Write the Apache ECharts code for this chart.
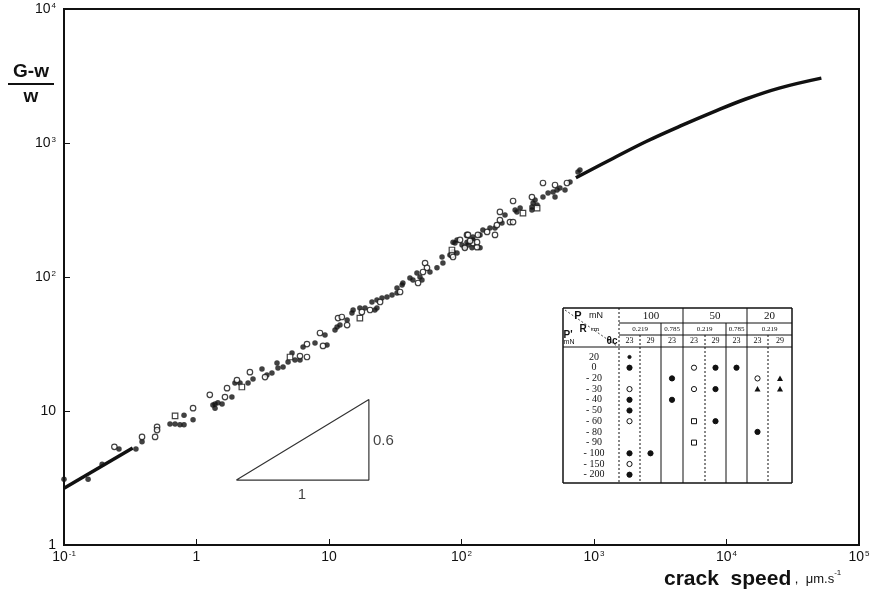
<!DOCTYPE html>
<html>
<head>
<meta charset="utf-8">
<script src="https://cdn.jsdelivr.net/npm/echarts@6/dist/echarts.min.js"></script>
<style>
html, body { margin: 0; padding: 0; background: #fff; }
#chart { width: 875px; height: 597px; }
</style>
</head>
<body>
<div id="chart"></div>
<script>
// axis ranges (decades)
const xRange = [0.1, 100000]
const yRange = [1, 10000]

// fitted curve, drawn where it is not hidden by the points
const curveLow = [[0.1, 2.65], [0.33, 5.3]]
const curveHigh = [[730, 550], [1400, 770], [2500, 1030], [4500, 1340], [7900, 1700], [14000, 2130], [25000, 2570], [52000, 3050]]

// measured points, by symbol
const filledPts = [
  [0.1, 3.1], [0.152, 3.1], [0.194, 4.0], [0.26, 5.2], [0.349, 5.2], [0.388, 5.9],
  [0.631, 8.0], [0.689, 8.0], [0.75, 7.9], [0.805, 7.9], [0.805, 9.3], [0.942, 8.6],
  [1.33, 11.1], [1.38, 10.5], [1.38, 11.3], [1.45, 11.5], [1.56, 11.3], [1.85, 12.7],
  [1.95, 16.2], [2.13, 16.2], [2.45, 16.2], [2.67, 17.3], [3.12, 20.6], [3.4, 18.6],
  [3.71, 19.2], [4.05, 22.8], [4.12, 20.9], [4.5, 21.3], [4.91, 23.2], [5.26, 27.1],
  [5.54, 24.0], [6.04, 24.0], [6.37, 30.0], [7.84, 32.2], [9.33, 36.9], [9.66, 31.1],
  [11.1, 40.2], [11.5, 42.4], [12.1, 43.8], [13.7, 47.8], [14.9, 53.9], [15.2, 56.7],
  [17.1, 58.7], [18.7, 58.7], [22.2, 56.7], [21.1, 65.1], [23.0, 67.3], [23.0, 58.7],
  [25.1, 69.7], [27.4, 70.9], [29.9, 73.4], [32.6, 76.0], [32.6, 82.8], [35.6, 87.1],
  [36.1, 90.2], [40.8, 98.3], [43.0, 95.0], [46.1, 107], [48.6, 100], [50.3, 95],
  [57.8, 109], [65.3, 117], [72.4, 127], [71.3, 141], [81.8, 146], [86.3, 154],
  [89.3, 179], [92.5, 151], [86.3, 182], [92.5, 189], [101, 173], [106, 167],
  [110, 182], [112, 173], [120, 165], [122, 189], [122, 199], [138, 165], [138, 206],
  [145, 224], [164, 232], [179, 232], [202, 253], [213, 290], [254, 316], [262, 306],
  [277, 327], [340, 316], [340, 333], [347, 357], [359, 376], [372, 345], [412, 395],
  [450, 423], [491, 431], [526, 446], [553, 461], [508, 395], [604, 446], [659, 512],
  [757, 608], [783, 629]
]
const openPts = [
  [0.24, 5.4], [0.388, 6.4], [0.487, 6.4], [0.504, 7.6], [0.504, 7.2], [0.942, 10.5],
  [1.26, 13.2], [1.64, 12.7], [1.7, 14.8], [2.02, 17.0], [2.53, 19.5], [3.29, 17.9],
  [6.04, 25.7], [6.82, 25.3], [6.82, 31.6], [9.01, 30.6], [8.55, 38.2], [11.7, 49.4],
  [12.5, 50.3], [13.7, 43.8], [17.7, 54.8], [20.4, 56.7], [24.3, 65.1], [34.4, 77.3],
  [47.0, 90.2], [53.1, 127], [54.9, 117], [51.2, 109], [84.7, 146], [97.5, 189],
  [122, 179], [131, 167], [110, 206], [133, 206], [86.3, 141], [106, 165], [116, 186],
  [112, 206], [131, 182], [156, 217], [185, 244], [195, 266], [179, 206], [195, 306],
  [232, 257], [245, 257], [245, 369], [340, 395], [412, 503], [508, 486], [625, 503]
]
const squarePts = [
  [0.689, 9.2], [2.2, 15.1], [5.08, 25.3], [17.1, 49.4], [84.7, 159], [291, 300], [372, 327]
]

// slope triangle and its labels
const triangle = [[2, 3.05], [20, 3.05], [20, 12.2], [2, 3.05]]
const slopeLabels = [
  { value: [6.25, 3.05], text: '1', position: 'bottom' },
  { value: [20, 6.0], text: '0.6', position: 'right' }
]

// inset table contents
const loads = ['100', '50', '20']
const radii = ['0.219', '0.785', '0.219', '0.785', '0.219']
const thetaC = ['23', '29', '23', '23', '29', '23', '23', '29']
const pPrime = ['20', '0', '- 20', '- 30', '- 40', '- 50', '- 60', '- 80', '- 90', '- 100', '- 150', '- 200']
// [column, row, symbol]
const tableMarks = [
  [0, 0, 'dot'], [0, 1, 'filled'], [0, 3, 'open'], [0, 4, 'filled'], [0, 5, 'filled'],
  [0, 6, 'open'], [0, 9, 'filled'], [0, 10, 'open'], [0, 11, 'filled'],
  [1, 9, 'filled'],
  [2, 2, 'filled'], [2, 4, 'filled'],
  [3, 1, 'open'], [3, 3, 'open'], [3, 6, 'square'], [3, 8, 'square'],
  [4, 1, 'filled'], [4, 3, 'filled'], [4, 6, 'filled'],
  [5, 1, 'filled'],
  [6, 2, 'open'], [6, 3, 'triangle'], [6, 7, 'filled'],
  [7, 2, 'triangle'], [7, 3, 'triangle']
]

const ink = '#111'
const font = "'Liberation Sans Narrow', 'Liberation Sans', Arial, sans-serif"
const serif = "'Liberation Serif', 'DejaVu Serif', serif"

const powLabel = function (v) {
  const e = Math.round(Math.log10(v))
  if (e === 0) return '1'
  if (e === 1) return '10'
  return '10{sup|' + e + '}'
}

const labelRich = {
  sup: { fontSize: 8, fontFamily: font, color: ink, verticalAlign: 'top', padding: [0, 0, 7, 1] }
}

// table drawing (inset, positioned in pixels)
function buildTable () {
  const els = []
  const L = 563, T = 308, R = 792, B = 483
  const edges = [619, 640, 661, 683, 705, 726, 747, 768, 792]
  const hl = [323, 335, 347]
  const rowY = i => 357 + i * 10.7
  const line = (x1, y1, x2, y2, w, dash) => els.push({
    type: 'line', shape: { x1, y1, x2, y2 },
    style: { stroke: ink, lineWidth: w, lineDash: dash ? [2, 2] : null }
  })
  const text = (x, y, t, size, align, weight, family) => els.push({
    type: 'text', x, y,
    style: { text: t, fontSize: size, fontFamily: family || serif, fill: ink, align: align || 'center', verticalAlign: 'middle', fontWeight: weight || 'normal' }
  })
  // frame
  line(L, T, R, T, 1.5)
  line(L, T, L, B, 1.5)
  line(L, B, R, B, 1.5)
  line(R, T, R, B, 1.5)
  hl.forEach(y => line(edges[0], y, R, y, 1))
  line(L, hl[2], edges[0], hl[2], 1)
  // vertical dividers
  line(edges[0], T, edges[0], B, 1, true)
  line(edges[3], T, edges[3], B, 1)
  line(edges[6], T, edges[6], B, 1)
  line(edges[2], hl[0], edges[2], B, 1)
  line(edges[5], hl[0], edges[5], B, 1)
  line(edges[1], hl[1], edges[1], B, 1, true)
  line(edges[4], hl[1], edges[4], B, 1, true)
  line(edges[7], hl[1], edges[7], B, 1, true)
  line(L + 2, T + 2, edges[0] - 2, hl[2] - 1, 0.8, true)
  // header
  text(578, 316, 'P', 11, 'center', 'bold', font)
  text(596, 316, 'mN', 9, 'center', 'normal', font)
  text(583, 329, 'R', 10, 'center', 'bold', font)
  text(595, 329, 'cm', 7, 'center')
  text(568, 335, "P'", 10, 'center', 'bold', font)
  text(569, 342, 'mN', 7, 'center', 'normal', font)
  text(612, 341, 'θc', 10, 'center', 'bold', font)
  const groups = [[edges[0], edges[3]], [edges[3], edges[6]], [edges[6], R]]
  loads.forEach((t, i) => text((groups[i][0] + groups[i][1]) / 2, 316, t, 11))
  const rSpans = [[edges[0], edges[2]], [edges[2], edges[3]], [edges[3], edges[5]], [edges[5], edges[6]], [edges[6], R]]
  radii.forEach((t, i) => text((rSpans[i][0] + rSpans[i][1]) / 2, 329, t, 7))
  thetaC.forEach((t, i) => text((edges[i] + edges[i + 1]) / 2, 341, t, 8))
  pPrime.forEach((t, i) => text(594, rowY(i), t, 10))
  // symbols
  tableMarks.forEach(m => {
    const cx = (edges[m[0]] + edges[m[0] + 1]) / 2
    const cy = rowY(m[1])
    const k = m[2]
    if (k === 'square') {
      els.push({ type: 'rect', shape: { x: cx - 2.5, y: cy - 2.5, width: 5, height: 5 }, style: { fill: '#fff', stroke: ink, lineWidth: 1 } })
    } else if (k === 'triangle') {
      els.push({ type: 'polygon', shape: { points: [[cx - 3, cy + 2.5], [cx + 3, cy + 2.5], [cx, cy - 3]] }, style: { fill: ink } })
    } else {
      els.push({
        type: 'circle', shape: { cx, cy, r: k === 'dot' ? 1.6 : 2.6 },
        style: { fill: k === 'open' ? '#fff' : ink, stroke: ink, lineWidth: 1 }
      })
    }
  })
  return els
}

const chart = echarts.init(document.getElementById('chart'))
chart.setOption({
  backgroundColor: '#fff',
  animation: false,
  grid: {
    left: 64, right: 16, top: 9, bottom: 52,
    show: true, borderColor: ink, borderWidth: 2
  },
  xAxis: {
    type: 'log', logBase: 10, min: xRange[0], max: xRange[1],
    axisLine: { lineStyle: { color: ink, width: 2 } },
    axisTick: { inside: true, length: 6, lineStyle: { color: ink } },
    splitLine: { show: false },
    axisLabel: {
      formatter: powLabel, rich: labelRich, margin: 5,
      fontSize: 14, fontFamily: font, color: ink, showMinLabel: true, showMaxLabel: true
    }
  },
  yAxis: {
    type: 'log', logBase: 10, min: yRange[0], max: yRange[1],
    axisLine: { lineStyle: { color: ink, width: 2 } },
    axisTick: { inside: true, length: 6, lineStyle: { color: ink } },
    splitLine: { show: false },
    axisLabel: {
      formatter: powLabel, rich: labelRich, margin: 8,
      fontSize: 14, fontFamily: font, color: ink, showMinLabel: true, showMaxLabel: true
    }
  },
  series: [
    {
      type: 'line', data: curveLow, showSymbol: false, smooth: false,
      lineStyle: { color: ink, width: 3.5 }, z: 2
    },
    {
      type: 'line', data: curveHigh, showSymbol: false, smooth: 0.4,
      lineStyle: { color: ink, width: 3.5 }, z: 2
    },
    {
      type: 'line', data: triangle, showSymbol: false,
      lineStyle: { color: '#333', width: 1.2 }, z: 1
    },
    {
      type: 'scatter', symbolSize: 0,
      data: slopeLabels.map(d => ({
        value: d.value,
        label: { show: true, position: d.position, distance: d.position === 'right' ? 4 : 7, formatter: d.text, fontSize: 15, fontFamily: "'Liberation Sans', Arial, sans-serif", color: ink }
      }))
    },
    {
      type: 'scatter', data: filledPts, symbol: 'circle', symbolSize: 5.5,
      itemStyle: { color: ink }, z: 3
    },
    {
      type: 'scatter', data: openPts, symbol: 'circle', symbolSize: 5.5,
      itemStyle: { color: '#fff', borderColor: ink, borderWidth: 1.2 }, z: 3
    },
    {
      type: 'scatter', data: squarePts, symbol: 'rect', symbolSize: 5.5,
      itemStyle: { color: '#fff', borderColor: ink, borderWidth: 1.2 }, z: 3
    }
  ],
  graphic: [
    // y-axis name as a fraction
    { type: 'text', x: 31, y: 72, style: { text: 'G-w', fontSize: 19, fontWeight: 'bold', fontFamily: "'Liberation Sans', Arial, sans-serif", fill: ink, align: 'center', verticalAlign: 'middle' } },
    { type: 'line', shape: { x1: 8, y1: 84, x2: 54, y2: 84 }, style: { stroke: ink, lineWidth: 2 } },
    { type: 'text', x: 31, y: 97, style: { text: 'w', fontSize: 19, fontWeight: 'bold', fontFamily: "'Liberation Sans', Arial, sans-serif", fill: ink, align: 'center', verticalAlign: 'middle' } },
    // x-axis name
    {
      type: 'text', x: 664, y: 579,
      style: {
        text: '{b|crack  speed}{u| ,  μm.s}{s|-1}',
        verticalAlign: 'middle', fill: ink,
        rich: {
          b: { fontSize: 21, fontWeight: 'bold', fontFamily: "'Liberation Sans Narrow', 'Liberation Sans', Arial, sans-serif", fill: ink },
          u: { fontSize: 13, fontFamily: font, fill: ink },
          s: { fontSize: 8, fontFamily: font, fill: ink, verticalAlign: 'top', padding: [0, 0, 8, 0] }
        }
      }
    }
  ].concat(buildTable())
})
</script>
</body>
</html>
